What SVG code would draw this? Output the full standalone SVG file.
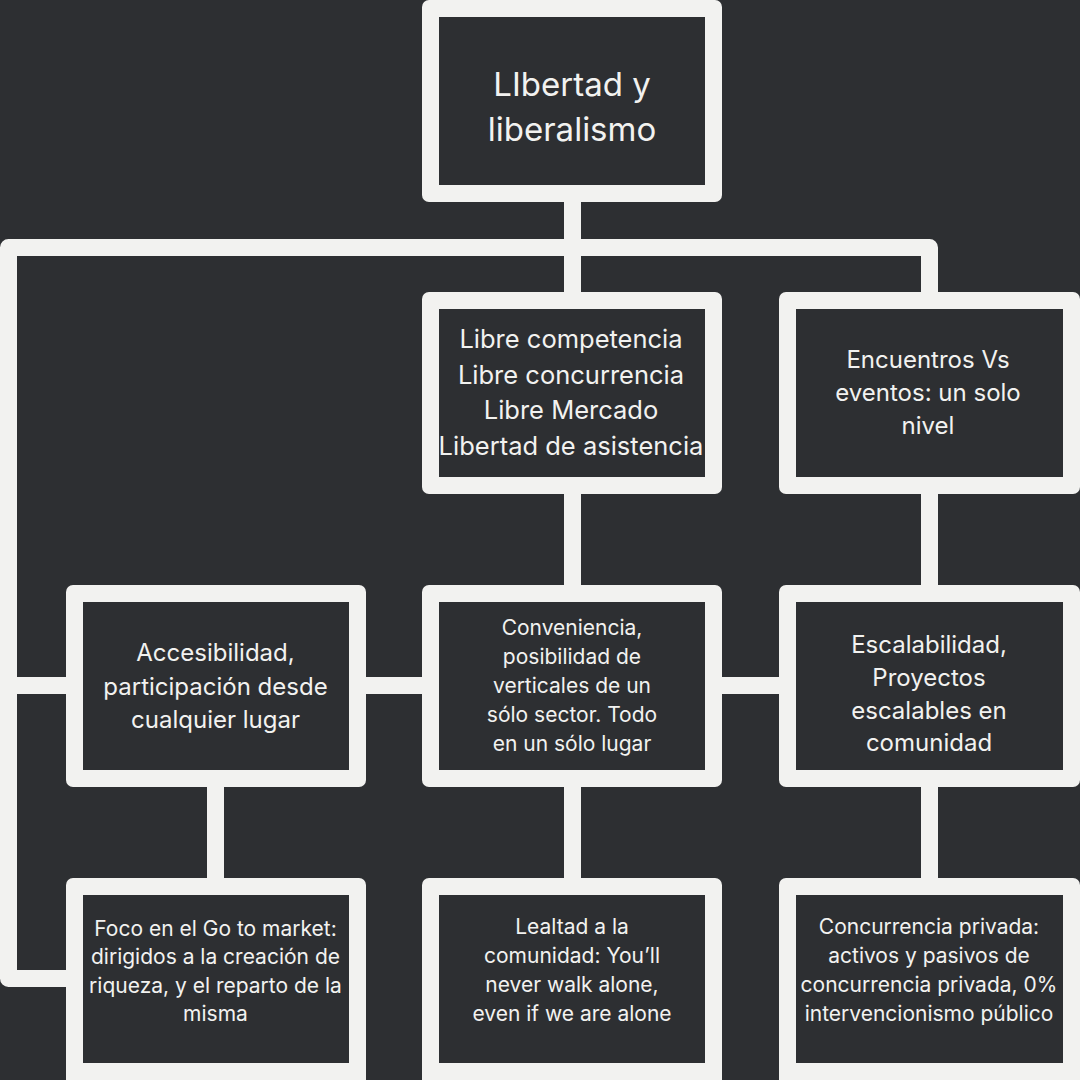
<svg xmlns="http://www.w3.org/2000/svg" width="1080" height="1080" viewBox="0 0 1080 1080">
<style>
.bg{fill:#2d2f32}
.frame{fill:#f2f2f0}
.inner{fill:#2d2f32}
.conn{fill:none;stroke:#f2f2f0;stroke-width:17;stroke-linejoin:round}
text{font-family:Inter,"Noto Sans","Liberation Sans",sans-serif;fill:#f2f2f0;text-anchor:middle}
.t32{font-size:33px}
.t24{font-size:24px}
.t25{font-size:25.5px}
.t20{font-size:21px}
</style>
<rect class="bg" x="0" y="0" width="1080" height="1080"/>
<g id="connectors">
<path class="conn" d="M572.5 202V292"/>
<path class="conn" d="M929.5 292V247.5H8.5V978.5H66"/>
<path class="conn" d="M8.5 685.5H779"/>
<path class="conn" d="M572.5 494V585M572.5 787V878"/>
<path class="conn" d="M929.5 494V585M929.5 787V878"/>
<path class="conn" d="M215.5 787V878"/>
</g>
<g id="n-top">
<rect class="frame" x="422" y="0" width="300" height="202" rx="7"/>
<rect class="inner" x="439" y="17" width="266" height="168"/>
<text class="t32" x="572" y="96">LIbertad y</text>
<text class="t32" x="572" y="141">liberalismo</text>
</g>
<g id="n-libre">
<rect class="frame" x="422" y="292" width="300" height="202" rx="7"/>
<rect class="inner" x="439" y="309" width="266" height="168"/>
<text class="t25" x="571" y="348">Libre competencia</text>
<text class="t25" x="571" y="384">Libre concurrencia</text>
<text class="t25" x="571" y="419">Libre Mercado</text>
<text class="t25" x="571" y="455">Libertad de asistencia</text>
</g>
<g id="n-encuentros">
<rect class="frame" x="779" y="292" width="301" height="202" rx="7"/>
<rect class="inner" x="796" y="309" width="267" height="168"/>
<text class="t24" x="928" y="368">Encuentros Vs</text>
<text class="t24" x="928" y="401">eventos: un solo</text>
<text class="t24" x="928" y="434">nivel</text>
</g>
<g id="n-acces">
<rect class="frame" x="66" y="585" width="300" height="202" rx="7"/>
<rect class="inner" x="83" y="602" width="266" height="168"/>
<text class="t24" x="215.5" y="661">Accesibilidad,</text>
<text class="t24" x="215.5" y="695">participación desde</text>
<text class="t24" x="215.5" y="728">cualquier lugar</text>
</g>
<g id="n-conven">
<rect class="frame" x="422" y="585" width="300" height="202" rx="7"/>
<rect class="inner" x="439" y="602" width="266" height="168"/>
<text class="t20" x="572" y="635">Conveniencia,</text>
<text class="t20" x="572" y="664">posibilidad de</text>
<text class="t20" x="572" y="693">verticales de un</text>
<text class="t20" x="572" y="722">sólo sector. Todo</text>
<text class="t20" x="572" y="751">en un sólo lugar</text>
</g>
<g id="n-escal">
<rect class="frame" x="779" y="585" width="301" height="202" rx="7"/>
<rect class="inner" x="796" y="602" width="267" height="168"/>
<text class="t24" x="929" y="653">Escalabilidad,</text>
<text class="t24" x="929" y="686">Proyectos</text>
<text class="t24" x="929" y="719">escalables en</text>
<text class="t24" x="929" y="751">comunidad</text>
</g>
<g id="n-foco">
<rect class="frame" x="66" y="878" width="300" height="210" rx="7"/>
<rect class="inner" x="83" y="895" width="266" height="168"/>
<text class="t20" x="215.5" y="936">Foco en el Go to market:</text>
<text class="t20" x="215.5" y="964">dirigidos a la creación de</text>
<text class="t20" x="215.5" y="993">riqueza, y el reparto de la</text>
<text class="t20" x="215.5" y="1021">misma</text>
</g>
<g id="n-lealtad">
<rect class="frame" x="422" y="878" width="300" height="210" rx="7"/>
<rect class="inner" x="439" y="895" width="266" height="168"/>
<text class="t20" x="572" y="934">Lealtad a la</text>
<text class="t20" x="572" y="963">comunidad: You’ll</text>
<text class="t20" x="572" y="992">never walk alone,</text>
<text class="t20" x="572" y="1021">even if we are alone</text>
</g>
<g id="n-concurrencia">
<rect class="frame" x="779" y="878" width="301" height="210" rx="7"/>
<rect class="inner" x="796" y="895" width="267" height="168"/>
<text class="t20" x="929" y="934">Concurrencia privada:</text>
<text class="t20" x="929" y="963">activos y pasivos de</text>
<text class="t20" x="929" y="992">concurrencia privada, 0%</text>
<text class="t20" x="929" y="1021">intervencionismo público</text>
</g>
</svg>
